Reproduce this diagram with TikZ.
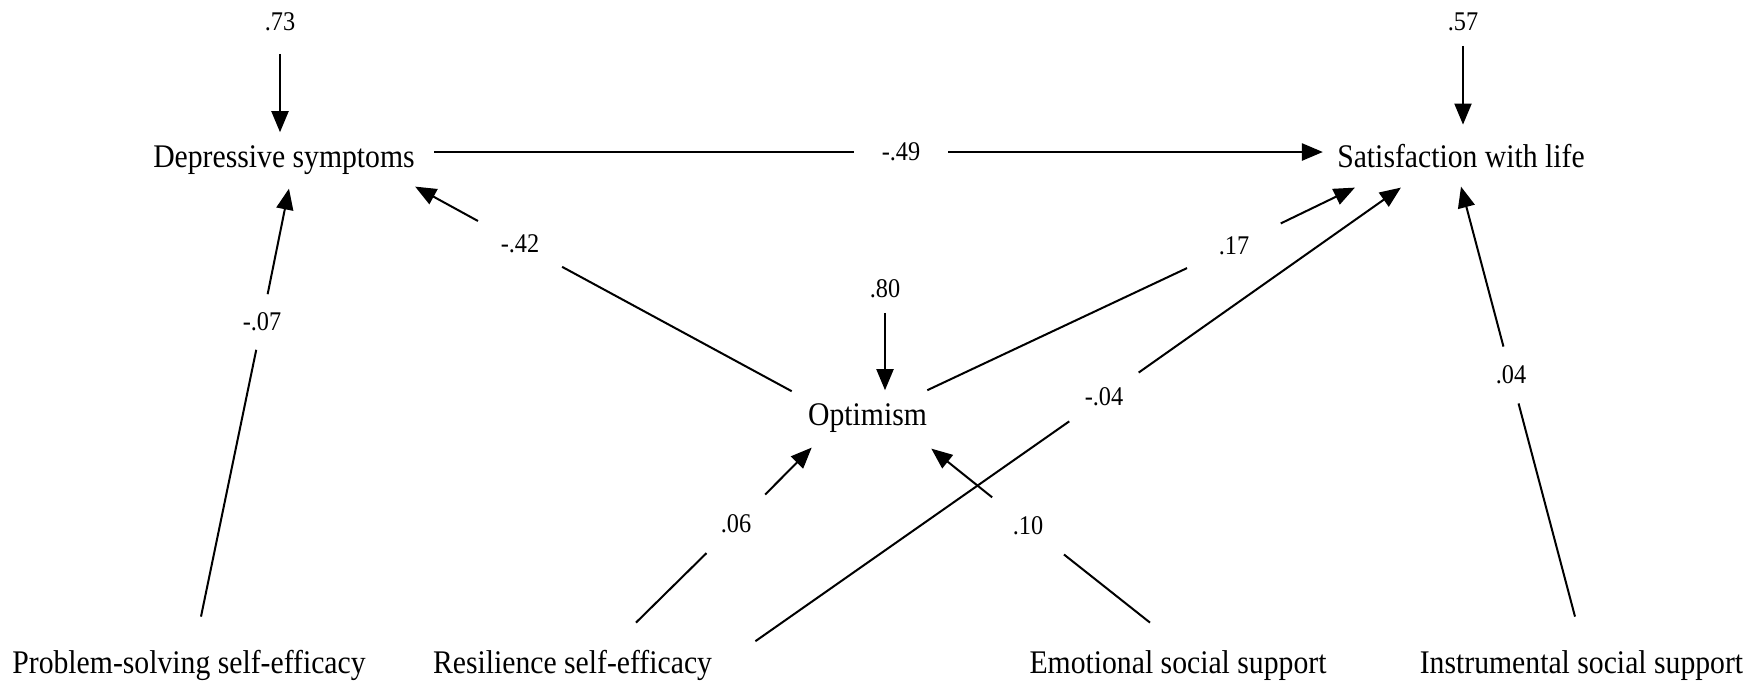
\documentclass[tikz,border=0pt]{standalone}
\usepackage{fontspec}
\setmainfont{Liberation Serif}[FakeStretch=0.9]
\usetikzlibrary{arrows.meta}

\begin{document}
\begin{tikzpicture}[x=0.5pt, y=-0.5pt, >={Triangle[length=10.5pt,width=8.5pt]},
    var/.style={anchor=base, inner xsep=0pt, inner ysep=6pt, text height=11.2pt, text depth=3.6pt, font=\fontsize{16.5}{18}\selectfont},
    err/.style={anchor=base, inner xsep=0pt, inner ysep=7.5pt, font=\fontsize{13.5}{15}\selectfont},
    coef/.style={circle, inner sep=0pt, font=\fontsize{13.5}{15}\selectfont},
    link/.style={line width=1pt}]

    % 1. Page frame
    \useasboundingbox (0,0) rectangle (1762,682);

    % 2. Variables
    \node[var] (dep) at (284,167) {Depressive symptoms};
    \node[var] (sat) at (1461,167) {Satisfaction with life};
    \node[var] (opt) at (867.5,425) {Optimism};
    \node[var] (ps)  at (189,673) {Problem-solving self-efficacy};
    \node[var] (res) at (572.5,673) {Resilience self-efficacy};
    \node[var] (emo) at (1178,673) {Emotional social support};
    \node[var] (ins) at (1581.5,673) {Instrumental social support};

    % 3. Residual variances
    \node[err] (e73) at (280,30) {.73};
    \node[err] (e57) at (1463,30) {.57};
    \node[err] (e80) at (885,297) {.80};

    \draw[->, link] ([yshift=-4pt]e73.south) -- (e73 |- dep.north);
    \draw[->, link] (e57) -- ([yshift=3.8pt]e57 |- sat.north);
    \draw[->, link] (e80) -- (e80 |- opt.north);

    % 4. Path coefficients (the line is broken round each one)
    \node[coef, minimum size=47pt]   (c49) at (901,152) {-.49};
    \node[coef, minimum size=47.5pt] (c42) at (520,244) {-.42};
    \node[coef, minimum size=51.5pt] (c17) at (1234,246) {.17};
    \node[coef, minimum size=42pt]   (c04r) at (1104,397) {-.04};
    \node[coef, minimum size=29pt]   (c04i) at (1511,375) {.04};
    \node[coef, minimum size=28pt]   (c07) at (262,322) {-.07};
    \node[coef, minimum size=41pt]   (c06) at (736,524) {.06};
    \node[coef, minimum size=45.5pt] (c10) at (1028,526) {.10};

    % 5. Paths
    \draw[->, link, line width=1.3pt] ([shift={(19,-7.4)}]dep.east) -- (c49) -- ([shift={(-14,-7.4)}]sat.west);
    \draw[->, link] ([shift={(-16,1)}]opt.north west) -- (c42) -- (dep.south east);
    \draw[->, link] (opt.north east) -- (c17) -- ([shift={(18,1)}]sat.south west);
    \draw[->, link] ([shift={(43,3)}]res.north east) -- (c04r) -- ([shift={(64,1)}]sat.south west);
    \draw[->, link] ([shift={(-6.5,-21.6)}]ins.north) -- (c04i) -- (sat.south);
    \draw[->, link] ([shift={(12,-21.6)}]ps.north) -- (c07) -- ([shift={(5,2)}]dep.south);
    \draw[->, link] ([shift={(63.5,-15.6)}]res.north) -- (c06) -- ([shift={(4,3)}]opt.south west);
    \draw[->, link] ([shift={(-28,-15.6)}]emo.north) -- (c10) -- ([shift={(4,4)}]opt.south east);
\end{tikzpicture}
\end{document}
